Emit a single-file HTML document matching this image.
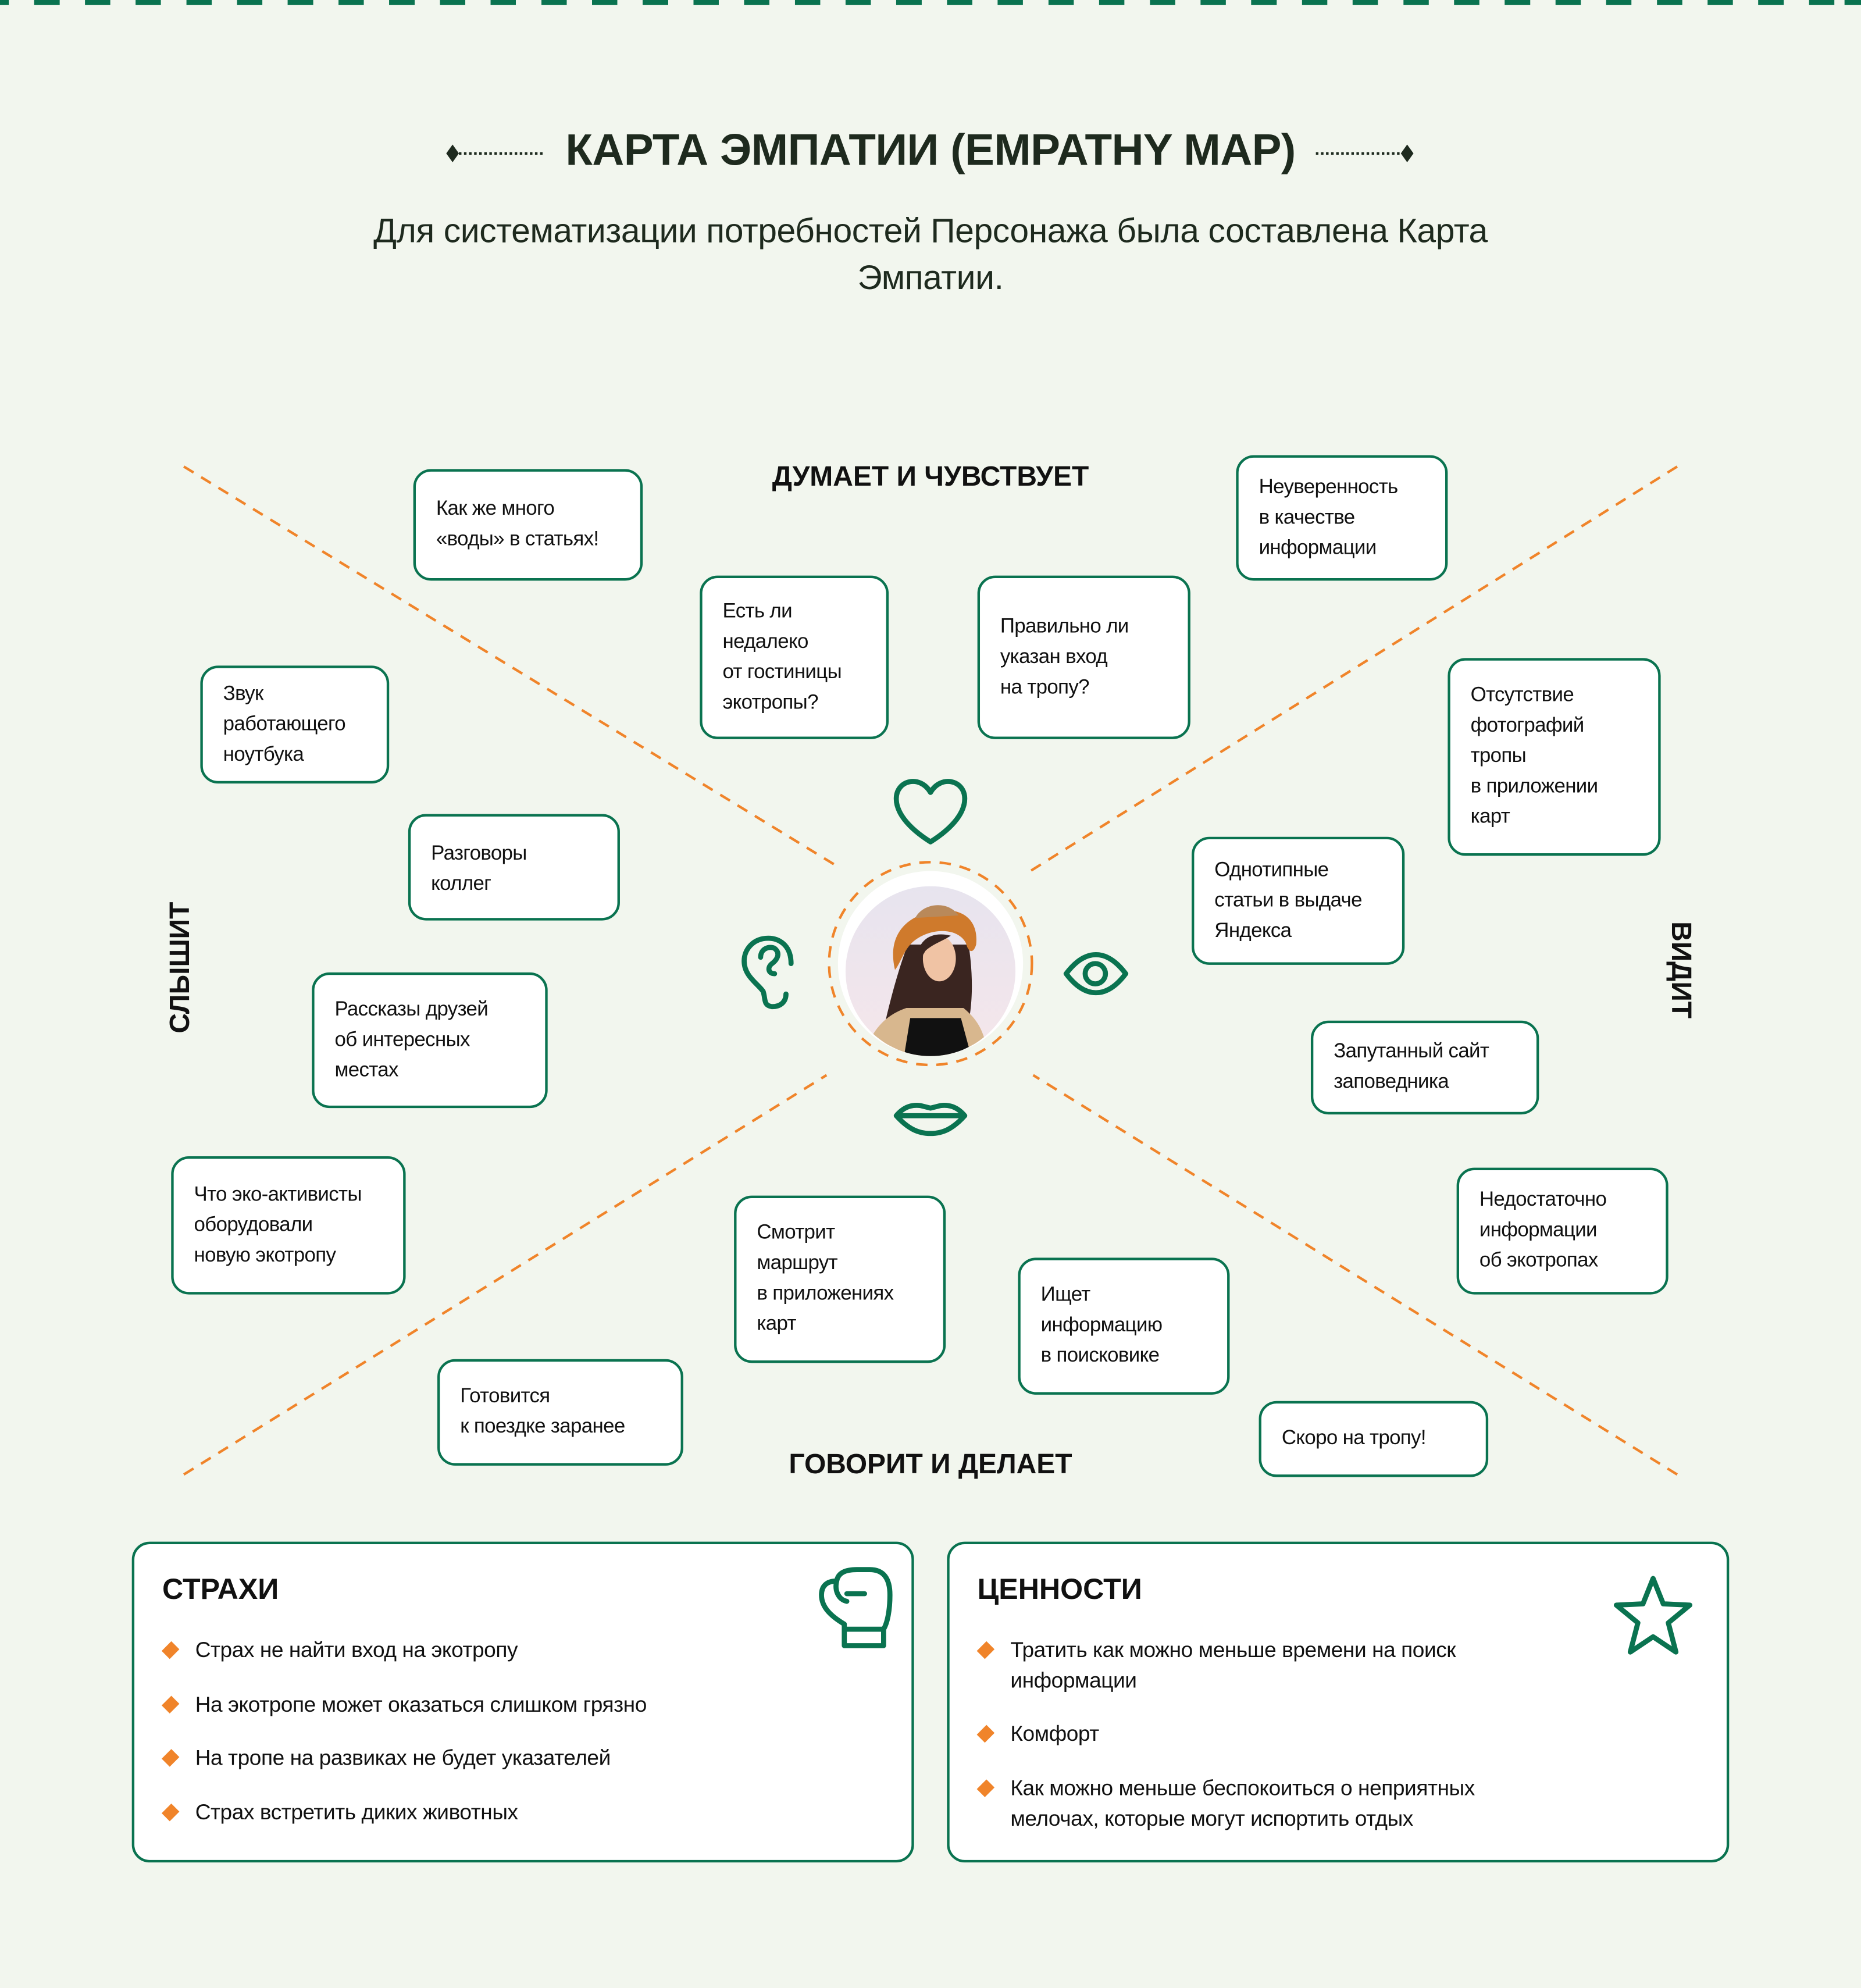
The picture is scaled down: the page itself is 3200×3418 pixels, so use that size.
<!DOCTYPE html>
<html><head><meta charset="utf-8"><style>
html,body{margin:0;padding:0;background:#f2f6ee;}
body{width:3200px;height:3418px;overflow:hidden;position:relative;}
#s{position:absolute;left:0;top:0;width:1468px;height:1568px;transform:scale(2.17984);transform-origin:0 0;font-family:"Liberation Sans",sans-serif;color:#111;}
.b{position:absolute;box-sizing:border-box;border:2px solid #0a7350;border-radius:14px;background:#fff;padding:0 6px 0 16px;display:flex;flex-direction:column;justify-content:center;font-size:16px;line-height:24px;letter-spacing:-0.3px;white-space:nowrap;}
.lab{position:absolute;font-weight:bold;font-size:22px;white-space:nowrap;color:#111;}
.card{position:absolute;box-sizing:border-box;border:2px solid #0a7350;border-radius:14px;background:#fff;}
.card h3{position:absolute;left:22px;top:22px;margin:0;font-size:23px;font-weight:bold;}
.li{position:absolute;left:48px;font-size:17px;line-height:24px;letter-spacing:-0.2px;white-space:nowrap;}
.li:before{content:"";position:absolute;left:-24px;top:7px;width:9px;height:9px;background:#f0842a;transform:rotate(45deg) scaleY(1.2);}
</style></head><body><div id="s">
<div style="position:absolute;left:0;top:0;width:1468px;height:4px;background:repeating-linear-gradient(90deg,#0a7350 0 20px,transparent 20px 40px);background-position:-13px 0"></div>

<svg width="1468" height="1568" style="position:absolute;left:0;top:0">
<g fill="#1e2a1e"><path d="M352 121 L357 114 L362 121 L357 128Z"/><path d="M1105 121 L1110 114 L1115 121 L1110 128Z"/></g>
<line x1="362" y1="121" x2="430" y2="121" stroke="#1e2a1e" stroke-width="2" stroke-dasharray="2 2"/>
<line x1="1038" y1="121" x2="1105" y2="121" stroke="#1e2a1e" stroke-width="2" stroke-dasharray="2 2"/>
<g stroke="#f0842a" stroke-width="2" stroke-dasharray="9 7" fill="none">
<line x1="145" y1="368" x2="660" y2="683"/><line x1="1323" y1="368" x2="808" y2="690"/>
<line x1="145" y1="1163" x2="652" y2="848"/><line x1="1323" y1="1163" x2="815" y2="848"/>
<circle cx="734" cy="760" r="80"/>
</g>
<defs><clipPath id="cp"><circle cx="734" cy="766" r="67"/></clipPath>
<linearGradient id="sky" x1="0" y1="0" x2="0" y2="1"><stop offset="0" stop-color="#e6e4ef"/><stop offset="1" stop-color="#f6e6ea"/></linearGradient></defs>
<circle cx="734" cy="760" r="73" fill="#fff"/>
<g clip-path="url(#cp)">
<rect x="660" y="690" width="150" height="150" fill="url(#sky)"/>
<path d="M716 745 C705 775 700 800 696 815 L760 820 C768 800 768 770 764 745Z" fill="#3a2520"/>
<path d="M680 840 C685 812 700 800 715 795 L760 795 C772 805 778 815 780 840Z" fill="#d8b78e"/>
<path d="M718 803 L758 803 L768 840 L712 840Z" fill="#111"/>
<ellipse cx="741" cy="756" rx="13" ry="18" fill="#f0c3a4"/>
<path d="M724 760 C722 742 734 734 750 738 C744 742 735 745 730 750 Z" fill="#3a2520"/>
<path d="M706 765 C700 740 712 722 740 718 C760 716 772 726 770 745 C768 752 764 752 762 744 C755 730 730 732 718 745 C712 752 710 760 706 765Z" fill="#cf7a2c"/>
<path d="M722 724 C728 712 748 710 756 722Z" fill="#b9895a"/>
</g>
<g fill="none" stroke="#0a7350" stroke-width="4" stroke-linecap="round" stroke-linejoin="round">
<path d="M734 664 C715 652 707 640 707 630 C707 615 726 611 734 625 C742 611 761 615 761 630 C761 640 753 652 734 664Z"/>
<path d="M624 760 C624 745 614 740 606 740 C594 740 587 749 587 758 C587 770 598 776 602 782 C604 788 602 793 609 794 C616 794 620 790 620 784"/>
<path d="M600 755 C600 748 607 746 611 748 C616 752 613 757 609 760 C605 763 606 768 611 768"/>
<path d="M841 768 C856 748 873 748 888 768 C873 788 856 788 841 768Z"/>
<circle cx="864" cy="768" r="8"/>
<path d="M707 880 C712 874 718 871 726 872 L734 874 L742 872 C750 871 756 874 761 880 C752 890 744 894 734 894 C724 894 716 890 707 880Z"/>
<line x1="709" y1="880" x2="759" y2="880"/>
</g>
</svg>

<div style="position:absolute;left:0;width:1468px;top:99px;text-align:center;font-size:35px;font-weight:bold;color:#1e2a1e;letter-spacing:-0.3px">КАРТА ЭМПАТИИ (EMPATHY MAP)</div>
<div style="position:absolute;left:134px;width:1200px;top:164px;text-align:center;font-size:27px;line-height:37px;color:#1e2a1e;letter-spacing:-0.2px">Для систематизации потребностей Персонажа была составлена Карта<br>Эмпатии.</div>

<div class="lab" style="left:0;width:1468px;text-align:center;top:363px">ДУМАЕТ И ЧУВСТВУЕТ</div>
<div class="lab" style="left:0;width:1468px;text-align:center;top:1142px">ГОВОРИТ И ДЕЛАЕТ</div>
<div class="lab" style="left:92px;top:752px;width:100px;text-align:center;transform:rotate(-90deg)">СЛЫШИТ</div>
<div class="lab" style="left:1276px;top:752px;width:100px;text-align:center;transform:rotate(90deg)">ВИДИТ</div>

<div class="b" style="left:326px;top:370px;width:181px;height:88px">Как же много<br>«воды» в статьях!</div>
<div class="b" style="left:552px;top:454px;width:149px;height:129px">Есть ли<br>недалеко<br>от гостиницы<br>экотропы?</div>
<div class="b" style="left:771px;top:454px;width:168px;height:129px">Правильно ли<br>указан вход<br>на тропу?</div>
<div class="b" style="left:975px;top:359px;width:167px;height:99px">Неуверенность<br>в качестве<br>информации</div>
<div class="b" style="left:158px;top:525px;width:149px;height:93px">Звук<br>работающего<br>ноутбука</div>
<div class="b" style="left:322px;top:642px;width:167px;height:84px;justify-content:flex-start;padding-top:18px">Разговоры<br>коллег</div>
<div class="b" style="left:246px;top:767px;width:186px;height:107px">Рассказы друзей<br>об интересных<br>местах</div>
<div class="b" style="left:135px;top:912px;width:185px;height:109px">Что эко-активисты<br>оборудовали<br>новую экотропу</div>
<div class="b" style="left:1142px;top:519px;width:168px;height:156px">Отсутствие<br>фотографий<br>тропы<br>в приложении<br>карт</div>
<div class="b" style="left:940px;top:660px;width:168px;height:101px">Однотипные<br>статьи в выдаче<br>Яндекса</div>
<div class="b" style="left:1034px;top:805px;width:180px;height:74px">Запутанный сайт<br>заповедника</div>
<div class="b" style="left:1149px;top:921px;width:167px;height:100px">Недостаточно<br>информации<br>об экотропах</div>
<div class="b" style="left:579px;top:943px;width:167px;height:132px">Смотрит<br>маршрут<br>в приложениях<br>карт</div>
<div class="b" style="left:803px;top:992px;width:167px;height:108px">Ищет<br>информацию<br>в поисковике</div>
<div class="b" style="left:345px;top:1072px;width:194px;height:84px">Готовится<br>к поездке заранее</div>
<div class="b" style="left:993px;top:1105px;width:181px;height:60px">Скоро на тропу!</div>

<div class="card" style="left:104px;top:1216px;width:617px;height:253px">
<h3>СТРАХИ</h3>
<div class="li" style="top:72px">Страх не найти вход на экотропу</div>
<div class="li" style="top:115px">На экотропе может оказаться слишком грязно</div>
<div class="li" style="top:157px">На тропе на развиках не будет указателей</div>
<div class="li" style="top:200px">Страх встретить диких животных</div>
</div>
<div class="card" style="left:747px;top:1216px;width:617px;height:253px">
<h3>ЦЕННОСТИ</h3>
<div class="li" style="top:72px">Тратить как можно меньше времени на поиск<br>информации</div>
<div class="li" style="top:138px">Комфорт</div>
<div class="li" style="top:181px">Как можно меньше беспокоиться о неприятных<br>мелочах, которые могут испортить отдых</div>
</div>
<svg width="1468" height="1568" style="position:absolute;left:0;top:0;pointer-events:none">
<g fill="none" stroke="#0a7350" stroke-width="4" stroke-linecap="round" stroke-linejoin="round">
<path d="M666 1298 L666 1281 C656 1275 648 1268 648 1258 C648 1251 652 1247 660 1247 C661 1241 666 1238 676 1238 L686 1238 C697 1238 702 1245 702 1258 C702 1270 700 1280 697 1285 L697 1298Z"/>
<line x1="668" y1="1285" x2="696" y2="1285"/>
<path d="M660 1247 C658 1255 662 1262 668 1263 M668 1257 L682 1257"/>
<path d="M1304 1245 L1312 1265 L1333 1266 L1316 1280 L1322 1303 L1304 1291 L1286 1303 L1292 1280 L1275 1266 L1296 1265Z"/>
</g></svg>
</div></body></html>
